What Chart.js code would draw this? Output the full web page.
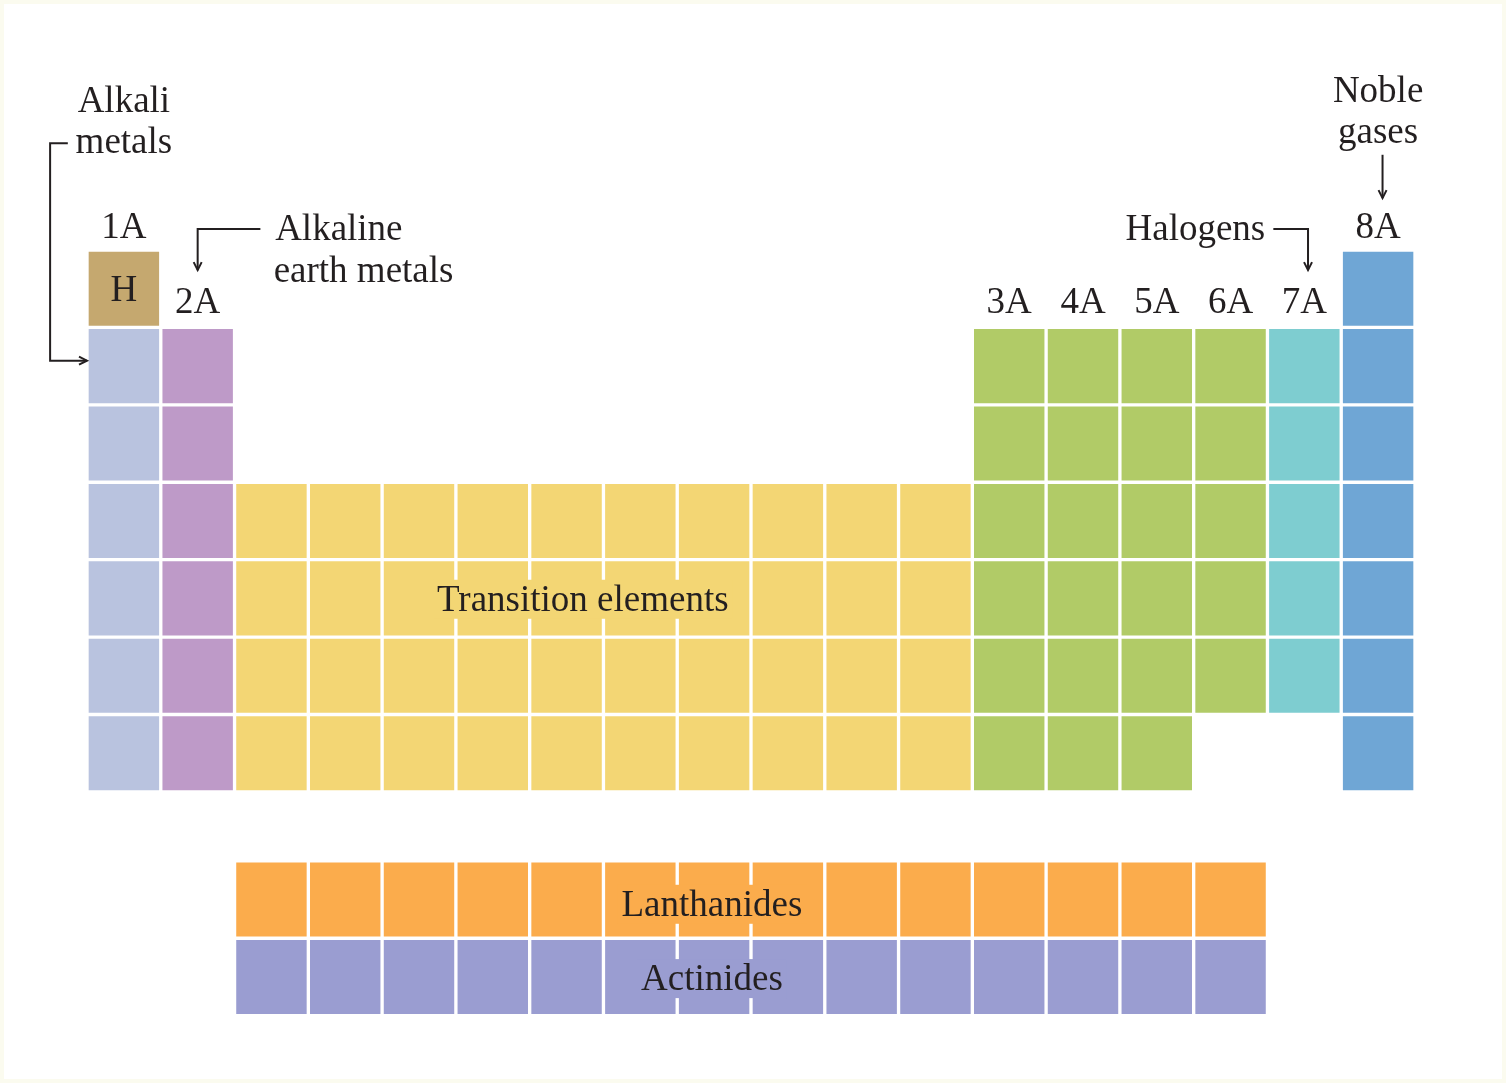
<!DOCTYPE html>
<html>
<head>
<meta charset="utf-8">
<script src="https://cdn.jsdelivr.net/npm/chart.js@4.4.1/dist/chart.umd.min.js"></script>
<style>
  body { margin: 0; background: #fff; }
  canvas { display: block; }
</style>
</head>
<body>
<canvas id="table" width="1506" height="1083"></canvas>
<script>
// columns of the periodic table and their group labels
const columns = ["1", "2", "3", "4", "5", "6", "7", "8", "9", "10", "11", "12", "13", "14", "15", "16", "17", "18"];
const groupLabels = ["1A", "2A", "", "", "", "", "", "", "", "", "", "", "3A", "4A", "5A", "6A", "7A", "8A"];

// element families, one letter code each
const familyCodes = ["H", "A", "E", "T", "M", "X", "N", "L", "C"];
const familyNames = ["Hydrogen", "Alkali metals", "Alkaline earth metals", "Transition elements",
  "Main group", "Halogens", "Noble gases", "Lanthanides", "Actinides"];
const familyColors = ["#c5a86f", "#b9c3df", "#be9ac8", "#f3d674", "#b1cb67", "#7ecdd0", "#6fa6d5", "#fbac4c", "#9a9dd1"];

// one string per row (periods 1-7, then lanthanides and actinides), one letter per column
const rows = [
  "H................N",
  "AE..........MMMMXN",
  "AE..........MMMMXN",
  "AETTTTTTTTTTMMMMXN",
  "AETTTTTTTTTTMMMMXN",
  "AETTTTTTTTTTMMMMXN",
  "AETTTTTTTTTTMMM..N",
  "..LLLLLLLLLLLLLL..",
  "..CCCCCCCCCCCCCC.."
];

const fBlockShift = 0.89; // f-block rows sit a bit under the main table
const ink = "#231f20";
const font = '37px "Liberation Serif"';

function cellsFor(code) {
  const cells = [];
  rows.forEach((row, r) => {
    const top = r < 7 ? r : r + fBlockShift;
    row.split("").forEach((ch, c) => {
      if (ch === code) cells.push({ x: columns[c], y: [top, top + 1] });
    });
  });
  return cells;
}

const datasets = familyCodes.map((code, i) => ({
  label: familyNames[i],
  data: cellsFor(code),
  backgroundColor: familyColors[i],
  borderColor: "#ffffff",
  borderWidth: 2,
  borderSkipped: false,
  grouped: false,
  barPercentage: 1,
  categoryPercentage: 1
}));

const labelsPlugin = {
  id: "labels",
  beforeDraw(chart) {
    const ctx = chart.ctx;
    ctx.save();
    ctx.fillStyle = "#ffffff";
    ctx.fillRect(0, 0, chart.width, chart.height);
    ctx.strokeStyle = "#fbfbef";
    ctx.lineWidth = 8;
    ctx.strokeRect(0, 0, chart.width, chart.height);
    ctx.restore();
  },
  afterDraw(chart) {
    const ctx = chart.ctx;
    const xs = chart.scales.x;
    const ys = chart.scales.y;
    const colW = (xs.right - xs.left) / columns.length;
    const X = (u) => xs.left + u * colW;
    const Y = (v) => ys.getPixelForValue(v);

    ctx.save();
    ctx.font = font;
    ctx.fillStyle = ink;
    ctx.textBaseline = "alphabetic";

    function text(str, u, v, align, patch) {
      ctx.textAlign = align || "center";
      const x = X(u), y = Y(v);
      if (patch) {
        const w = ctx.measureText(str).width;
        const left = align === "left" ? x : x - w / 2;
        ctx.fillStyle = patch;
        ctx.fillRect(left - 4, y - 31, w + 8, 39);
        ctx.fillStyle = ink;
      }
      ctx.fillText(str, x, y);
    }

    // group labels: 1A and 8A above the first row, the rest above the second
    groupLabels.forEach((g, c) => {
      if (!g) return;
      const v = (c === 0 || c === 17) ? -0.155 : 0.81;
      text(g, c + 0.5, v);
    });
    text("H", 0.5, 0.66);

    text("Alkali", 0.5, -1.78);
    text("metals", 0.5, -1.25);
    text("Alkaline", 2.55, -0.13, "left");
    text("earth metals", 2.53, 0.41, "left");
    text("Halogens", 15.97, -0.13, "right");
    text("Noble", 17.5, -1.91);
    text("gases", 17.5, -1.38);

    text("Transition elements", 6.72, 4.66, "center", familyColors[3]);
    text("Lanthanides", 8.47, 8.6, "center", familyColors[7]);
    text("Actinides", 8.47, 9.56, "center", familyColors[8]);

    // connector lines and arrows
    ctx.strokeStyle = ink;
    ctx.lineWidth = 2;
    function path(points) {
      ctx.beginPath();
      points.forEach(([u, v], i) => {
        if (i === 0) ctx.moveTo(X(u), Y(v));
        else ctx.lineTo(X(u), Y(v));
      });
      ctx.stroke();
    }
    function head(u, v, dir) {
      const x = X(u), y = Y(v), s = 8, h = 4;
      ctx.beginPath();
      if (dir === "down") {
        ctx.moveTo(x - h, y - s); ctx.lineTo(x, y); ctx.lineTo(x + h, y - s);
      } else {
        ctx.moveTo(x - s, y - h); ctx.lineTo(x, y); ctx.lineTo(x - s, y + h);
      }
      ctx.stroke();
    }
    path([[-0.26, -1.38], [-0.5, -1.38], [-0.5, 1.43], [0, 1.43]]);
    head(0, 1.43, "right");
    path([[2.35, -0.27], [1.5, -0.27], [1.5, 0.26]]);
    head(1.5, 0.26, "down");
    path([[16.08, -0.27], [16.55, -0.27], [16.55, 0.26]]);
    head(16.55, 0.26, "down");
    path([[17.56, -1.23], [17.56, -0.67]]);
    head(17.56, -0.67, "down");
    ctx.restore();
  }
};

new Chart(document.getElementById("table"), {
  type: "bar",
  data: { labels: columns, datasets: datasets },
  options: {
    responsive: false,
    animation: false,
    devicePixelRatio: 1,
    layout: { padding: { left: 87, right: 91, top: 250, bottom: 0 } },
    scales: {
      x: { display: false, grid: { display: false } },
      y: { display: false, reverse: true, min: 0, max: 10.76 }
    },
    plugins: {
      legend: { display: false },
      tooltip: { enabled: false }
    }
  },
  plugins: [labelsPlugin]
});
</script>
</body>
</html>
